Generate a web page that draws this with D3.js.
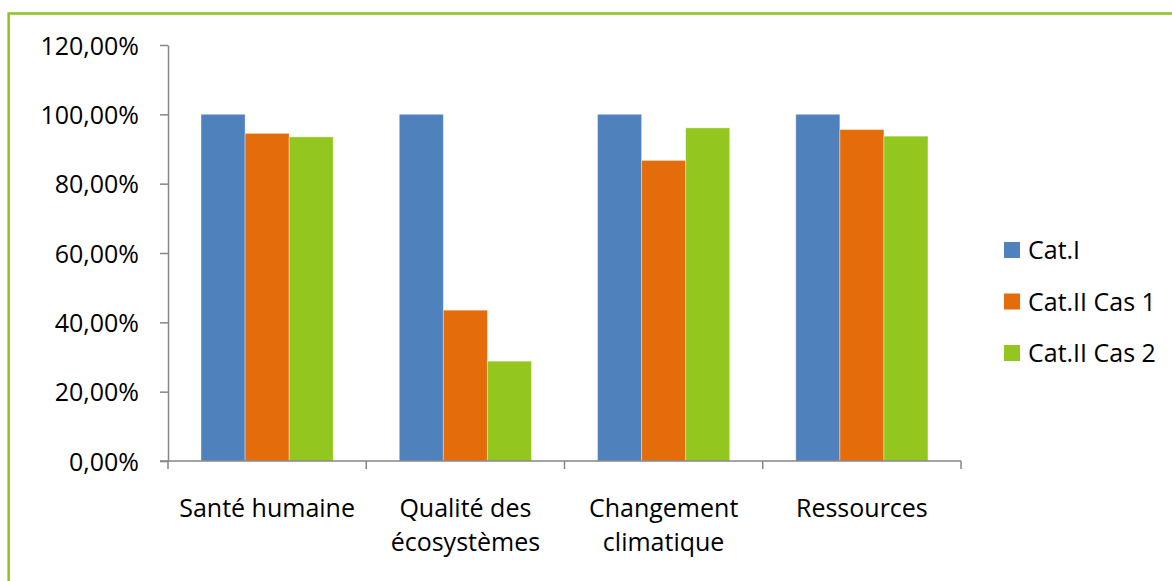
<!DOCTYPE html>
<html>
<head>
<meta charset="utf-8">
<script src="https://cdn.jsdelivr.net/npm/d3@7"></script>
<style>
  html, body { margin: 0; padding: 0; background: #fff; }
  svg { display: block; }
  text { font-family: "Open Sans", "Noto Sans", sans-serif; fill: #000; }
</style>
</head>
<body>
<svg id="chart" width="1172" height="581"></svg>
<script>
// Impact categories (x axis), two-line labels split on "\n"
const categories = ["Santé humaine", "Qualité des\nécosystèmes", "Changement\nclimatique", "Ressources"];
// Series names shown in the legend
const seriesNames = ["Cat.I", "Cat.II Cas 1", "Cat.II Cas 2"];
// Relative scores, in percent
const catI      = [100, 100, 100, 100];
const catIICas1 = [94.5, 43.5, 86.7, 95.6];
const catIICas2 = [93.5, 28.8, 96.1, 93.7];
// Y axis ticks
const yTicks = [0, 20, 40, 60, 80, 100, 120];

const seriesValues = [catI, catIICas1, catIICas2];
const colors = ["#4F81BD", "#E46C0A", "#93C720"];

const svg = d3.select("#chart");
const W = 1172, H = 581;
const fontSize = "25px";

// Outer frame (green); the right and bottom edges fall outside the view
svg.append("rect")
  .attr("x", 8.7).attr("y", 13.5)
  .attr("width", W + 20).attr("height", H + 20)
  .attr("fill", "none")
  .attr("stroke", "#92C42A")
  .attr("stroke-width", 2.6);

const plot = { left: 168, right: 961, top: 45, bottom: 461 };

const x = d3.scaleBand()
  .domain(categories)
  .range([plot.left, plot.right])
  .paddingInner(0).paddingOuter(0);

const x1 = d3.scaleBand()
  .domain(seriesNames)
  .range([0, x.bandwidth()])
  .paddingInner(0)
  .paddingOuter(0.75);

const y = d3.scaleLinear()
  .domain([0, 120])
  .range([plot.bottom, plot.top]);

const fmt = v => d3.format(".2f")(v).replace(".", ",") + "%";

// Bars
const rows = [];
categories.forEach((c, i) => {
  seriesNames.forEach((s, j) => rows.push({ c, s, v: seriesValues[j][i], color: colors[j] }));
});

svg.append("g").selectAll("rect")
  .data(rows)
  .join("rect")
  .attr("x", d => x(d.c) + x1(d.s))
  .attr("y", d => y(d.v))
  .attr("width", x1.bandwidth())
  .attr("height", d => y(0) - y(d.v))
  .attr("fill", d => d.color)
  .attr("stroke", "rgba(255,255,255,0.35)")
  .attr("stroke-width", 1);

const axisColor = "#868686";

// Y axis
const yAxis = svg.append("g")
  .attr("transform", `translate(${plot.left},0)`)
  .call(d3.axisLeft(y).tickValues(yTicks).tickFormat(fmt).tickSize(8).tickSizeOuter(0));
yAxis.select(".domain").attr("stroke", axisColor).attr("stroke-width", 1.5);
yAxis.selectAll(".tick line").attr("stroke", axisColor).attr("stroke-width", 1.5);
yAxis.selectAll(".tick text")
  .attr("x", -29)
  .attr("dy", "0.36em")
  .style("font-size", fontSize)
  .style("font-family", "'Open Sans', sans-serif")
  .attr("fill", "#000");

// X axis: ticks on category boundaries
const bounds = categories.map(c => x(c)).concat([plot.right]);
const xAxisG = svg.append("g");
xAxisG.append("line")
  .attr("x1", plot.left - 8).attr("x2", plot.right)
  .attr("y1", y(0)).attr("y2", y(0))
  .attr("stroke", axisColor).attr("stroke-width", 1.5);
xAxisG.selectAll("line.tk")
  .data(bounds)
  .join("line")
  .attr("class", "tk")
  .attr("x1", d => d).attr("x2", d => d)
  .attr("y1", y(0)).attr("y2", y(0) + 8)
  .attr("stroke", axisColor).attr("stroke-width", 1.5);

// Category labels
const lbl = svg.append("g").selectAll("text")
  .data(categories)
  .join("text")
  .attr("x", d => x(d) + x.bandwidth() / 2)
  .attr("y", 517)
  .attr("text-anchor", "middle")
  .style("font-size", fontSize);
lbl.each(function(d) {
  const t = d3.select(this);
  d.split("\n").forEach((line, i) => {
    t.append("tspan")
      .attr("x", x(d) + x.bandwidth() / 2)
      .attr("dy", i === 0 ? 0 : 34)
      .text(line);
  });
});

// Legend
const legend = svg.append("g").selectAll("g")
  .data(seriesNames)
  .join("g")
  .attr("transform", (d, i) => `translate(1004, ${250 + i * 51.5})`);
legend.append("rect")
  .attr("x", 0).attr("y", -8)
  .attr("width", 16).attr("height", 16)
  .attr("fill", (d, i) => colors[i]);
legend.append("text")
  .attr("x", 24).attr("y", 0)
  .attr("dy", "0.36em")
  .style("font-size", fontSize)
  .text(d => d);
</script>
</body>
</html>
